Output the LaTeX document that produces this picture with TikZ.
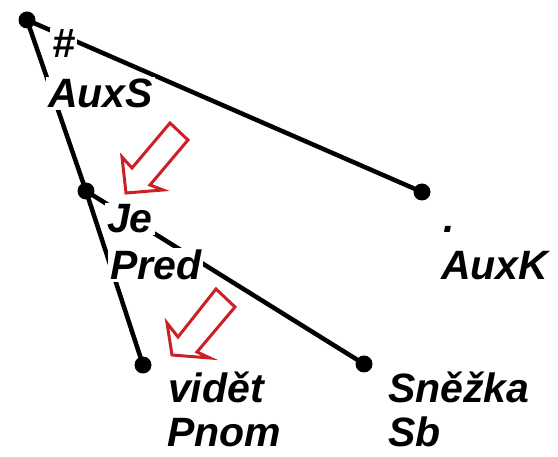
\documentclass[tikz,border=0pt]{standalone}
\usepackage{fontspec}
\setmainfont{Liberation Sans}
\definecolor{arrowred}{RGB}{204,32,39}
\begin{document}
\begin{tikzpicture}[x=1pt,y=-1pt,
  edge/.style={line width=4.5pt},
  dot/.style={circle,fill=black,inner sep=0pt,minimum size=17pt},
  lbl/.style={anchor=base west,fill=white,inner sep=2pt,text depth=0pt,
    font=\fontsize{41}{48}\selectfont\bfseries\itshape},
  hint/.style={draw=arrowred,line width=3pt,line join=miter,fill=white}]
\useasboundingbox (0,0) rectangle (558,457);

% tree vertices
\node[dot] (root) at (27,20) {};
\node[dot] (je) at (86,191) {};
\node[dot] (auxk) at (422,192) {};
\node[dot] (videt) at (143,365) {};
\node[dot] (snezka) at (364,364) {};

% dependency edges
\draw[edge] (root.center) -- (je.center);
\draw[edge] (root.center) -- (auxk.center);
\draw[edge] (je.center) -- (videt.center);
\draw[edge] (je.center) -- (snezka.center);

% word forms and analytical functions
\node[lbl] (rootform) at (50,58) {\#};
\node[lbl] (rootfun) at (46,108) {AuxS};
\node[lbl] (jeform) at (105,233) {Je};
\node[lbl] (jefun) at (108,280) {Pred};
\node[lbl] (auxkform) at (441,233) {.};
\node[lbl] (auxkfun) at (439,280) {AuxK};
\node[lbl] (videtform) at (166,403) {vidět};
\node[lbl] (videtfun) at (165,447) {Pnom};
\node[lbl] (snezkaform) at (386,403) {Sněžka};
\node[lbl] (snezkafun) at (386,447) {Sb};

% hollow red arrows
\draw[hint] (170,123) -- (188,140) -- (150,185) -- (163,190) -- (126,193)
  -- (122,157) -- (132,168) -- cycle;
\draw[hint] (216,289) -- (235,307) -- (197,352) -- (210,358) -- (172,355)
  -- (167,323) -- (178,337) -- cycle;
\end{tikzpicture}
\end{document}
